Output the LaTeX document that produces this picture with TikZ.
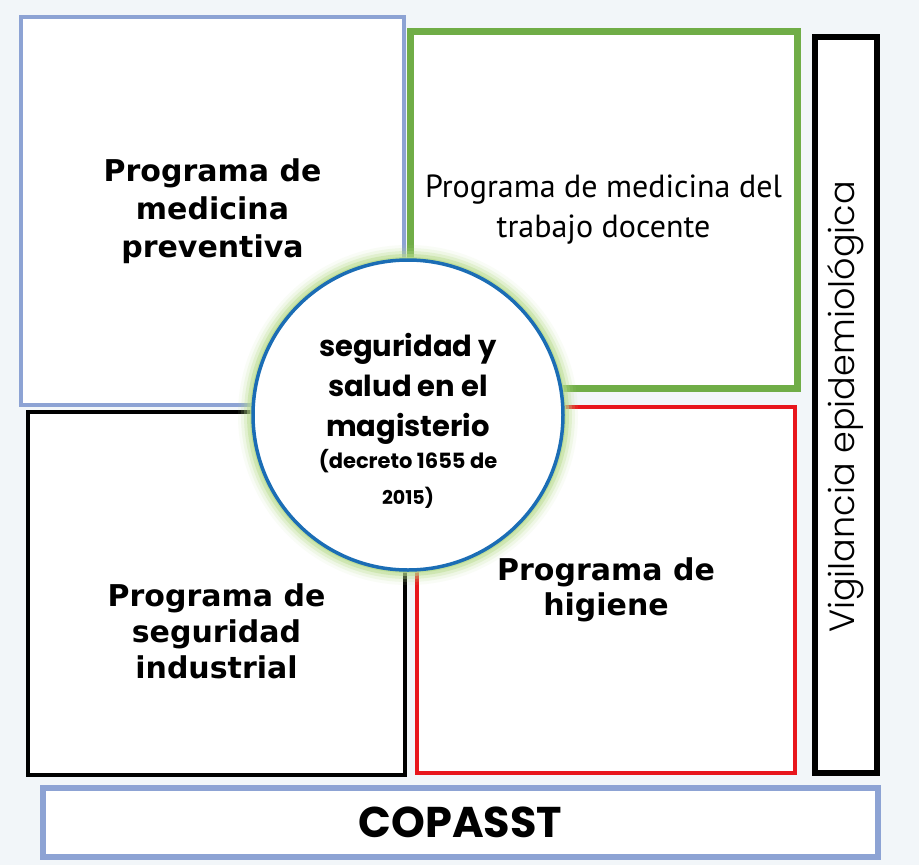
\documentclass[tikz,border=0pt]{standalone}
\usepackage{fontspec}
\setmainfont{DejaVu Sans}
\newfontfamily\myriad{PT Sans}
\newfontfamily\gothic{Poppins}
\newfontfamily\gothiclight{Poppins Light}
\usetikzlibrary{positioning}

\definecolor{fondo}{HTML}{F2F6F9}
\definecolor{lila}{HTML}{8DA3D4}
\definecolor{verde}{HTML}{70AD47}
\definecolor{rojo}{HTML}{E8161C}
\definecolor{azul}{HTML}{1B6DB5}
\definecolor{brillo}{HTML}{B8DC8E}

\tikzset{
  caja/.style={draw, fill=white, rectangle, inner sep=0pt, align=center},
  titulo/.style={font=\bfseries\fontsize{30}{38}\selectfont, align=center},
}

\begin{document}
\begin{tikzpicture}[x=1pt,y=-1pt]
            \useasboundingbox (0,0) rectangle (919,865);
            \fill[fondo] (0,0) rectangle (919,865);

            \node[caja, draw=lila, line width=4pt, minimum width=383pt, minimum height=388pt,
                  titulo] (prev) at (212.5,211) {Programa de\\medicina\\preventiva};
            \node[caja, draw=verde, line width=7pt, minimum width=387pt, minimum height=357pt,
                  font=\myriad\fontsize{32}{40}\selectfont] (trab) at (603.5,209.5)
                  {Programa de medicina del\\trabajo docente};
            \node[caja, draw=black, line width=4.5pt, minimum width=377pt, minimum height=363pt] (indus) at (216.5,593.5) {};
            \node[titulo, font=\bfseries\fontsize{30}{36}\selectfont] (indust) at ([yshift=-38pt]indus.center)
                  {Programa de\\seguridad\\industrial};
            \node[caja, draw=rojo, line width=3.5pt, minimum width=378pt, minimum height=366pt,
                  titulo, font=\bfseries\fontsize{30}{35}\selectfont] (hig) at (606,590) {Programa de\\higiene};

            \node[caja, draw=black, line width=6pt, minimum width=62pt, minimum height=736pt] (vig) at (846,405) {};
            \node[rotate=90, font=\gothiclight\fontsize{35}{40}\selectfont] (vigt) at ([yshift=-2pt]vig.center)
                  {Vigilancia epidemiológica};

            \node[caja, draw=lila, line width=6pt, minimum width=835pt, minimum height=69pt,
                  font=\gothic\bfseries\fontsize{43}{45}\selectfont] (copasst) at (460.5,822.5) {COPASST};

            \foreach \r/\o in {15/0.08,12/0.15,9/0.25,6/0.45,3/0.7}
              \fill[brillo, opacity=\o] (408,415) circle[radius=155+\r];
            \node[circle, draw=azul, fill=white, line width=3.5pt, minimum size=310pt, inner sep=0pt] (sst) at (408,415) {};
            \node[font=\gothic\bfseries\fontsize{29}{40}\selectfont, align=center] (sstt) at ([yshift=-6pt]sst.center)
                  {seguridad y\\salud en el\\magisterio\\[-8pt]
                   \fontsize{21}{34}\selectfont (decreto 1655 de\\[-4pt]\fontsize{19}{30}\selectfont 2015)};
\end{tikzpicture}
\end{document}
